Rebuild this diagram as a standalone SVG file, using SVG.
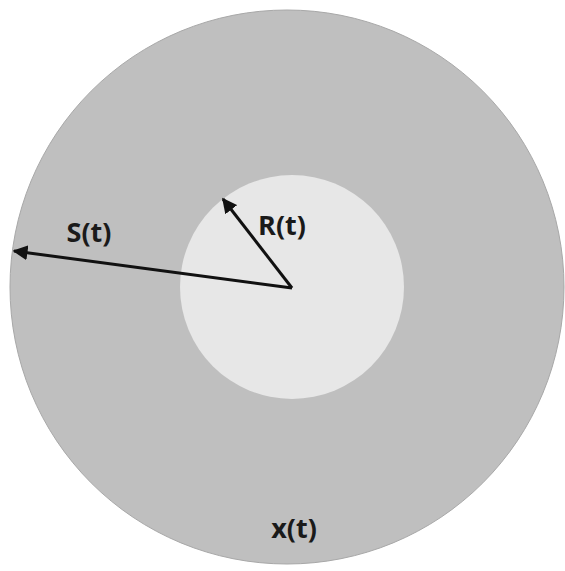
<svg xmlns="http://www.w3.org/2000/svg" width="565" height="571" viewBox="0 0 565 571">
<style>
.lbl{font-family:"Open Sans","Liberation Sans",sans-serif;font-weight:bold;font-size:27px;fill:#1a1a1a}
.arr{stroke:#111;stroke-width:3;fill:none;marker-end:url(#ah)}
</style>
<defs>
<marker id="ah" viewBox="0 0 10 10" refX="9" refY="5" markerWidth="5" markerHeight="5" orient="auto" markerUnits="strokeWidth">
<path d="M0,0 L10,5 L0,10 z" fill="#111"/>
</marker>
</defs>
<rect width="565" height="571" fill="#fff"/>
<g id="outer">
<circle cx="287" cy="287" r="277" fill="#bfbfbf" stroke="#a8a8a8" stroke-width="1"/>
<text class="lbl" x="294" y="538" text-anchor="middle">x(t)</text>
</g>
<g id="inner">
<circle cx="292" cy="287" r="112" fill="#e7e7e7"/>
</g>
<g id="connectors">
<line class="arr" x1="292" y1="288" x2="14" y2="251"/>
<line class="arr" x1="292" y1="288" x2="223" y2="199"/>
</g>
<g id="labels">
<text class="lbl" x="89" y="242" text-anchor="middle">S(t)</text>
<text class="lbl" x="282" y="235" text-anchor="middle">R(t)</text>
</g>
</svg>
